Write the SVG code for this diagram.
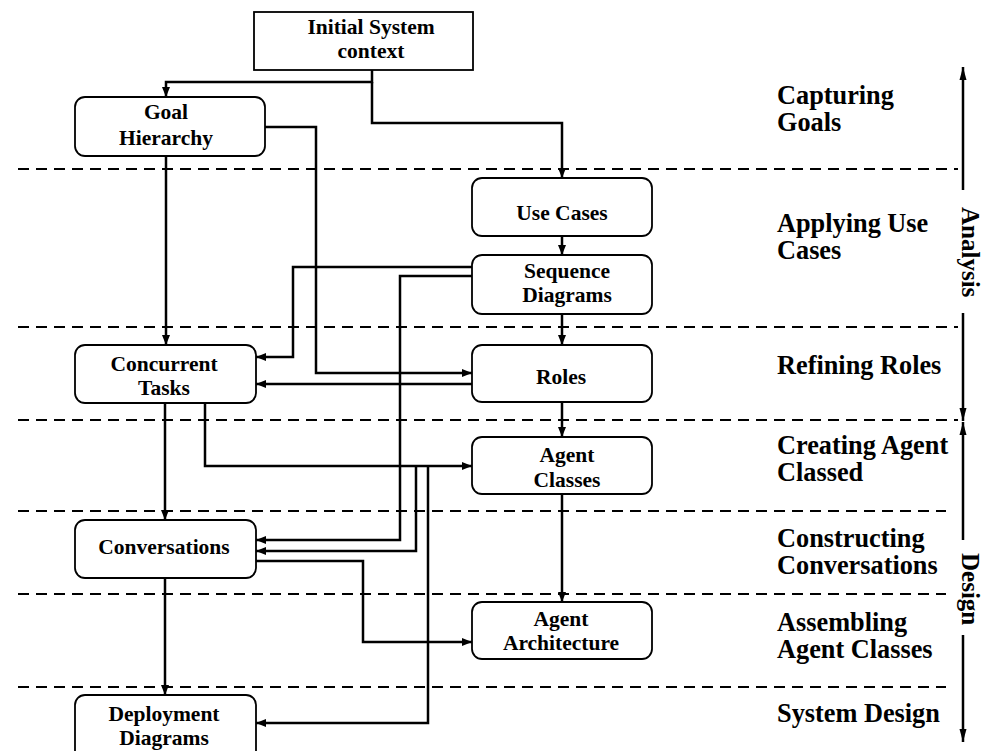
<svg xmlns="http://www.w3.org/2000/svg" width="983" height="751" viewBox="0 0 983 751">
<defs>
<marker id="ah" markerUnits="userSpaceOnUse" markerWidth="10" markerHeight="10" viewBox="0 0 10 10" refX="10" refY="5" orient="auto">
<path d="M0,1 L10,5 L0,9 Z" fill="#000"/>
</marker>
<marker id="ahs" markerUnits="userSpaceOnUse" markerWidth="13" markerHeight="9" viewBox="0 0 13 9" refX="13" refY="4.5" orient="auto">
<path d="M0,1 L13,4.5 L0,8 Z" fill="#000"/>
</marker>
</defs>
<style>
.box{fill:#fff;stroke:#000;stroke-width:1.8}
.nt{font-family:"Liberation Serif","Times New Roman",serif;font-weight:bold;font-size:21.5px;text-anchor:middle;fill:#000}
.lb{font-family:"Liberation Serif","Times New Roman",serif;font-weight:bold;font-size:26.3px;fill:#000}
.ph{font-family:"Liberation Serif","Times New Roman",serif;font-weight:bold;font-size:25px;fill:#000}
.dash{stroke:#000;stroke-width:2;stroke-dasharray:11 7;fill:none}
.ca{fill:none;stroke:#000;stroke-width:2.5;marker-end:url(#ah)}
.side{fill:none;stroke:#000;stroke-width:2.5}
</style>
<rect width="983" height="751" fill="#fff"/>
<g id="swimlanes">
<line class="dash" x1="18" y1="169" x2="958" y2="169"/>
<line class="dash" x1="18" y1="327" x2="958" y2="327"/>
<line class="dash" x1="18" y1="420" x2="958" y2="420"/>
<line class="dash" x1="18" y1="511" x2="946" y2="511"/>
<line class="dash" x1="18" y1="594" x2="946" y2="594"/>
<line class="dash" x1="18" y1="687" x2="946" y2="687"/>
</g>
<g id="connectors">
<path class="ca" d="M372,70 V82 H166 V97"/>
<path class="ca" d="M372,82 V123 H562 V178"/>
<path class="ca" d="M265,127 H316 V373 H472"/>
<path class="ca" d="M166,156 V345"/>
<path class="ca" d="M562,236 V255"/>
<path class="ca" d="M562,314 V345"/>
<path class="ca" d="M472,267 H293 V357 H256"/>
<path class="ca" d="M472,276 H400 V540 H256"/>
<path class="ca" d="M472,384 H256"/>
<path class="ca" d="M562,402 V437"/>
<path class="ca" d="M205,403 V466 H472"/>
<path class="ca" d="M165,403 V520"/>
<path class="ca" d="M416,466 V551 H256"/>
<path class="ca" d="M428,466 V723 H256"/>
<path class="ca" d="M256,561 H363 V642 H472"/>
<path class="ca" d="M165,578 V695"/>
<path class="ca" d="M562,494 V602"/>
</g>
<g id="node-initial">
<rect class="box" x="254" y="12" width="219" height="58"/>
<text class="nt" x="371" y="34">Initial System</text>
<text class="nt" x="371" y="58">context</text>
</g>
<g id="node-goal">
<rect class="box" x="75" y="97" width="190" height="59" rx="10"/>
<text class="nt" x="166" y="119">Goal</text>
<text class="nt" x="166" y="145">Hierarchy</text>
</g>
<g id="node-usecases">
<rect class="box" x="472" y="178" width="180" height="58" rx="10"/>
<text class="nt" x="562" y="220">Use Cases</text>
</g>
<g id="node-sequence">
<rect class="box" x="472" y="255" width="180" height="59" rx="10"/>
<text class="nt" x="567" y="278">Sequence</text>
<text class="nt" x="567" y="302">Diagrams</text>
</g>
<g id="node-roles">
<rect class="box" x="472" y="345" width="180" height="57" rx="10"/>
<text class="nt" x="561" y="384">Roles</text>
</g>
<g id="node-concurrent">
<rect class="box" x="75" y="345" width="181" height="58" rx="10"/>
<text class="nt" x="164" y="371">Concurrent</text>
<text class="nt" x="164" y="395">Tasks</text>
</g>
<g id="node-agentclasses">
<rect class="box" x="472" y="437" width="180" height="57" rx="10"/>
<text class="nt" x="567" y="462">Agent</text>
<text class="nt" x="567" y="487">Classes</text>
</g>
<g id="node-conversations">
<rect class="box" x="75" y="520" width="181" height="58" rx="10"/>
<text class="nt" x="164" y="554">Conversations</text>
</g>
<g id="node-architecture">
<rect class="box" x="472" y="602" width="180" height="57" rx="10"/>
<text class="nt" x="561" y="626">Agent</text>
<text class="nt" x="561" y="650">Architecture</text>
</g>
<g id="node-deployment">
<rect class="box" x="75" y="695" width="181" height="66" rx="10"/>
<text class="nt" x="164" y="721">Deployment</text>
<text class="nt" x="164" y="745">Diagrams</text>
</g>
<g id="stage-labels">
<text class="lb" x="777" y="104">Capturing</text>
<text class="lb" x="777" y="131">Goals</text>
<text class="lb" x="777" y="232">Applying Use</text>
<text class="lb" x="777" y="259">Cases</text>
<text class="lb" x="777" y="374">Refining Roles</text>
<text class="lb" x="777" y="454">Creating Agent</text>
<text class="lb" x="777" y="481">Classed</text>
<text class="lb" x="777" y="547">Constructing</text>
<text class="lb" x="777" y="574">Conversations</text>
<text class="lb" x="777" y="631">Assembling</text>
<text class="lb" x="777" y="658">Agent Classes</text>
<text class="lb" x="777" y="722">System Design</text>
</g>
<g id="phase-analysis">
<path class="side" d="M963,190 V67" marker-end="url(#ahs)"/>
<path class="side" d="M963,313 V421" marker-end="url(#ahs)"/>
<text class="ph" transform="translate(962,207) rotate(90)">Analysis</text>
</g>
<g id="phase-design">
<path class="side" d="M963,540 V422" marker-end="url(#ahs)"/>
<path class="side" d="M963,635 V742" marker-end="url(#ahs)"/>
<text class="ph" transform="translate(962,553) rotate(90)">Design</text>
</g>
</svg>
